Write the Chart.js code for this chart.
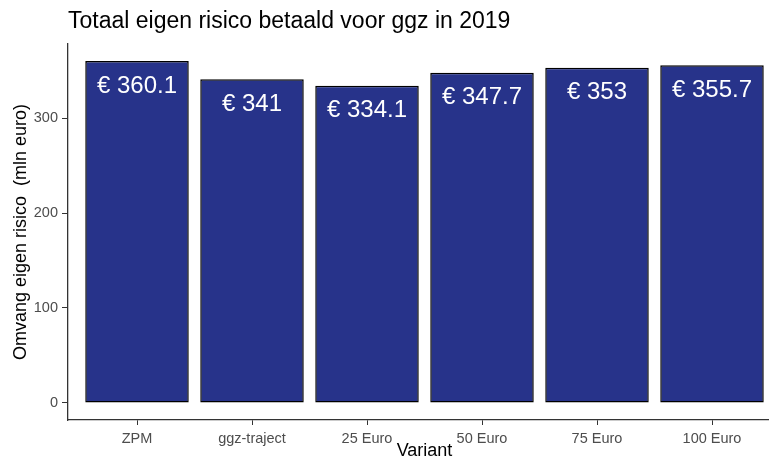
<!DOCTYPE html>
<html>
<head>
<meta charset="utf-8">
<script src="https://cdn.jsdelivr.net/npm/chart.js@4"></script>
<style>
  body { margin: 0; overflow: hidden; background: #fff; }
  #wrap { width: 781px; height: 465px; }
</style>
</head>
<body>
<div id="wrap"><canvas id="chart" width="781" height="465"></canvas></div>
<script>
// gegevens
const categories = ['ZPM', 'ggz-traject', '25 Euro', '50 Euro', '75 Euro', '100 Euro'];
const values = [360.1, 341, 334.1, 347.7, 353, 355.7];
const yTicks = [0, 100, 200, 300];

const FONT = '"Liberation Sans", Arial, sans-serif';

// labels in de balken
const barLabels = {
    id: 'barLabels',
    afterDatasetsDraw(chart) {
        const ctx = chart.ctx;
        const meta = chart.getDatasetMeta(0);
        ctx.save();
        ctx.fillStyle = '#ffffff';
        ctx.font = '24px ' + FONT;
        ctx.textAlign = 'center';
        ctx.textBaseline = 'alphabetic';
        meta.data.forEach((bar, i) => {
            ctx.fillText('€ ' + values[i], bar.x, bar.y + 31.5);
        });
        ctx.restore();
    }
};

const ctx = document.getElementById('chart').getContext('2d');
const yMax = Math.max(...values);

new Chart(ctx, {
    type: 'bar',
    data: {
        datasets: [{
            data: values.map((v, i) => ({ x: i + 1, y: v })),
            backgroundColor: '#27338a',
            borderColor: '#000000',
            borderWidth: 1.5,
            borderSkipped: false,
            barPercentage: 0.9,
            categoryPercentage: 1
        }]
    },
    options: {
        responsive: false,
        animation: false,
        layout: { padding: 0 },
        plugins: {
            legend: { display: false },
            tooltip: { enabled: false },
            title: {
                display: true,
                text: 'Totaal eigen risico betaald voor ggz in 2019',
                align: 'start',
                fullSize: false,
                color: '#000',
                font: { family: FONT, size: 23, weight: 'normal' },
                padding: { top: 7.5, bottom: 8.9 }
            }
        },
        scales: {
            x: {
                type: 'linear',
                min: 0.4,
                max: 6.6,
                offset: false,
                afterBuildTicks: (s) => { s.ticks = categories.map((c, i) => ({ value: i + 1 })); },
                afterFit: (s) => { s.height = 45; },
                ticks: {
                    callback: (v) => categories[v - 1],
                    color: '#4d4d4d',
                    font: { family: FONT, size: 14.5 },
                    padding: 5,
                    maxRotation: 0,
                    autoSkip: false
                },
                grid: { offset: false, drawOnChartArea: false, drawTicks: true, tickLength: 5, color: '#333' },
                border: { display: true, color: '#333', width: 1.3 },
                title: {
                    display: true,
                    text: 'Variant',
                    color: '#000',
                    font: { family: FONT, size: 18 },
                    padding: { top: 0, bottom: 3 }
                }
            },
            y: {
                min: -yMax * 0.05,
                max: yMax * 1.05,
                afterBuildTicks: (s) => { s.ticks = yTicks.map(v => ({ value: v })); },
                afterFit: (s) => { s.width = 68; },
                ticks: {
                    color: '#4d4d4d',
                    font: { family: FONT, size: 14.5 },
                    padding: 4
                },
                grid: { drawOnChartArea: false, drawTicks: true, tickLength: 6, color: '#333' },
                border: { display: true, color: '#333', width: 1.3 },
                title: {
                    display: true,
                    text: 'Omvang eigen risico  (mln euro)',
                    color: '#000',
                    font: { family: FONT, size: 18 },
                    padding: { top: 10, bottom: 0 }
                }
            }
        }
    },
    plugins: [barLabels]
});
</script>
</body>
</html>
